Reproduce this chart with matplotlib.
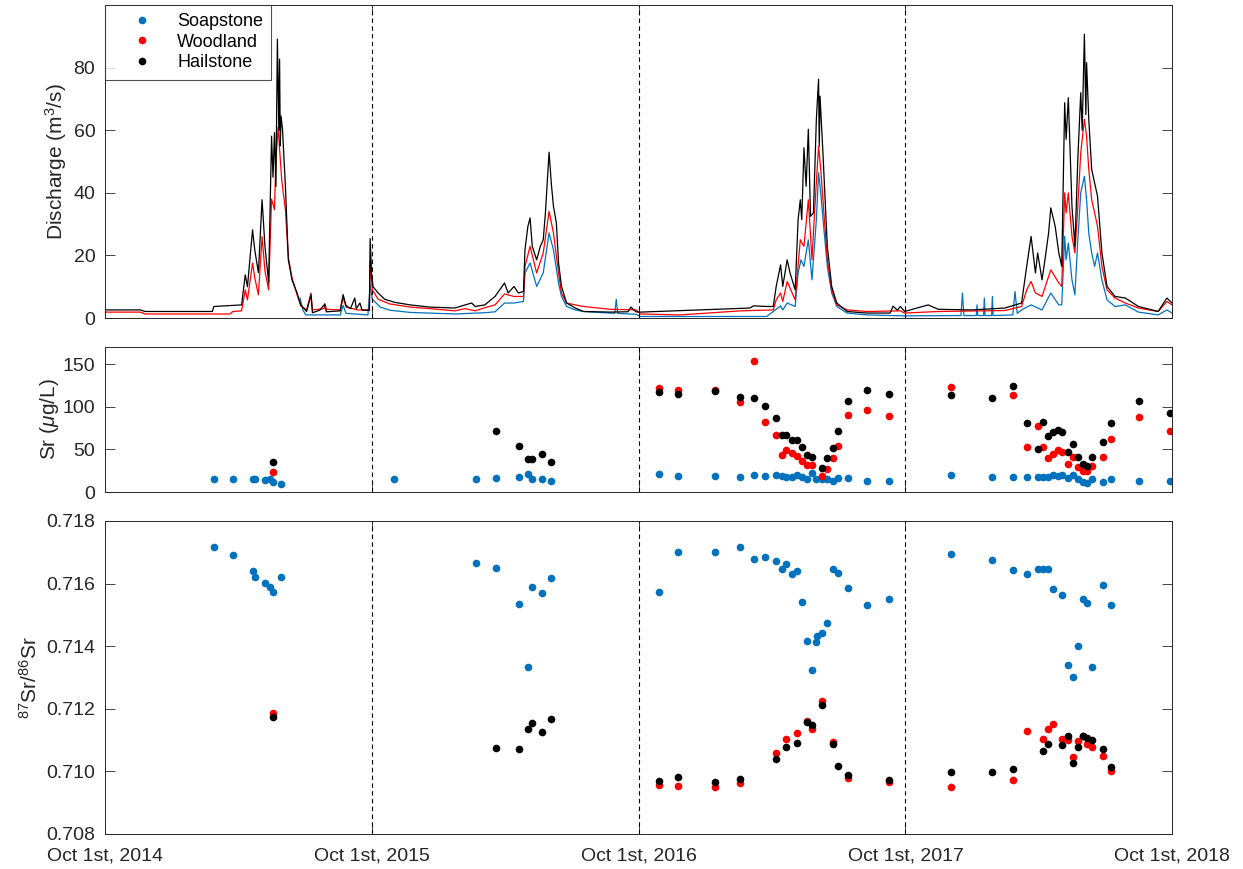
import numpy as np
import pandas as pd
import matplotlib
matplotlib.use('Agg')
import matplotlib.pyplot as plt
from matplotlib.lines import Line2D

plt.rcParams['font.family'] = ['Liberation Sans', 'DejaVu Sans']
plt.rcParams['mathtext.fontset'] = 'custom'
plt.rcParams['mathtext.rm'] = 'Liberation Sans'
plt.rcParams['mathtext.it'] = 'Liberation Sans:italic'

t0 = pd.Timestamp('2014-10-01')

# ---- discharge (days since Oct 1st 2014, m3/s)
hail_q_days = [0, 48, 55, 147, 149, 187, 192, 195, 202, 205, 210, 215, 219, 224, 228, 230, 232, 234,
               236, 238, 239, 240, 241, 243, 247, 251, 256, 263, 268, 276, 282, 284, 294, 301, 303,
               322, 326, 330, 336, 342, 344, 349, 352, 362, 363, 365, 367, 374, 383, 397, 418, 445,
               479, 493, 502, 507, 520, 534, 547, 552, 560, 566, 573, 575, 579, 582, 585, 591, 596,
               600, 603, 608, 611, 614, 618, 621, 625, 632, 644, 655, 692, 716, 720, 727, 733, 815,
               883, 888, 906, 915, 919, 925, 928, 934, 938, 945, 949, 952, 954, 957, 960, 963, 966,
               970, 974, 977, 978, 979, 983, 986, 989, 995, 1002, 1016, 1043, 1075, 1079, 1085, 1089,
               1095, 1127, 1141, 1187, 1232, 1255, 1262, 1268, 1274, 1277, 1283, 1287, 1292, 1295,
               1301, 1306, 1310, 1314, 1316, 1319, 1324, 1328, 1332, 1336, 1338, 1341, 1343, 1344,
               1347, 1351, 1355, 1359, 1365, 1372, 1383, 1397, 1415, 1442, 1454, 1461]
hail_q = [2.6, 2.6, 2.1, 2.1, 3.7, 4.2, 13.8, 10.0, 28.2, 21.8, 14.5, 37.8, 22.9, 11.3, 58.1, 45.0,
          59.3, 42.0, 89.1, 60.0, 82.7, 55.0, 64.5, 60.3, 42.1, 18.6, 12.2, 8.0, 4.2, 2.1, 7.4, 1.7,
          2.5, 4.5, 2.0, 2.3, 7.5, 4.0, 3.0, 6.4, 3.0, 4.8, 2.5, 2.5, 25.4, 14.0, 10.0, 8.0, 6.0,
          5.0, 4.2, 3.5, 3.2, 4.2, 4.8, 3.7, 4.2, 6.9, 11.2, 8.0, 10.1, 8.0, 8.5, 21.8, 29.3, 32.0,
          22.9, 18.6, 22.9, 25.0, 33.6, 53.0, 43.2, 35.7, 30.4, 17.6, 10.1, 4.8, 3.2, 2.1, 1.9, 2.0,
          3.5, 2.0, 1.9, 2.6, 3.2, 3.9, 3.7, 3.7, 10.1, 17.0, 10.1, 18.6, 14.4, 9.0, 31.4, 37.8,
          31.4, 54.4, 42.1, 60.3, 32.5, 33.6, 63.5, 76.3, 55.0, 70.9, 52.8, 37.8, 22.9, 10.1, 4.8,
          2.1, 1.6, 1.6, 3.8, 2.5, 3.7, 2.1, 4.2, 2.8, 2.6, 3.2, 4.8, 16.5, 26.1, 14.4, 20.8, 12.2,
          18.6, 27.2, 35.2, 29.3, 20.8, 16.5, 68.8, 57.1, 70.4, 35.7, 22.9, 50.7, 72.0, 60.0, 90.7,
          65.0, 81.6, 63.5, 47.5, 43.2, 38.9, 20.8, 10.1, 6.9, 6.4, 3.7, 2.1, 6.4, 4.8]

wood_q_days = [0, 48, 55, 171, 175, 187, 192, 195, 202, 205, 210, 215, 219, 224, 228, 232, 234, 237,
               240, 242, 247, 251, 256, 263, 268, 276, 282, 284, 300, 301, 303, 322, 326, 330, 346,
               362, 363, 366, 374, 390, 418, 445, 479, 493, 507, 520, 534, 547, 560, 573, 575, 582,
               591, 600, 608, 614, 621, 625, 632, 644, 655, 692, 727, 733, 787, 870, 915, 919, 925,
               928, 934, 945, 952, 957, 963, 968, 972, 977, 980, 984, 989, 995, 1002, 1016, 1043,
               1089, 1095, 1141, 1232, 1255, 1262, 1268, 1274, 1283, 1292, 1295, 1306, 1310, 1314,
               1316, 1319, 1324, 1328, 1332, 1336, 1341, 1344, 1347, 1351, 1355, 1359, 1365, 1372,
               1383, 1397, 1415, 1442, 1454, 1461]
wood_q = [1.9, 1.9, 1.3, 1.3, 2.1, 2.3, 9.0, 5.8, 17.6, 12.9, 7.4, 26.0, 15.0, 9.0, 38.0, 34.6, 50.6,
          61.0, 50.6, 44.0, 34.6, 19.3, 12.9, 7.4, 3.9, 2.6, 8.0, 2.6, 3.0, 4.5, 2.8, 2.6, 6.5, 3.5,
          2.6, 2.6, 18.0, 9.0, 6.0, 4.5, 3.5, 3.0, 2.3, 3.0, 2.3, 3.3, 4.2, 7.7, 6.9, 6.9, 16.5, 22.9,
          14.4, 20.8, 34.1, 27.2, 14.4, 8.0, 4.8, 4.2, 3.7, 2.8, 2.6, 1.3, 1.0, 2.3, 2.6, 5.8, 8.0,
          5.3, 11.7, 5.8, 25.0, 22.9, 37.8, 18.6, 35.7, 54.9, 47.5, 34.6, 18.6, 9.0, 4.2, 2.6, 2.1,
          2.3, 1.6, 2.1, 2.4, 3.7, 9.0, 11.7, 8.0, 6.9, 13.3, 15.4, 11.2, 10.1, 40.0, 33.6, 40.0,
          26.1, 20.8, 35.7, 52.8, 63.5, 58.1, 47.5, 37.8, 33.6, 29.3, 16.5, 9.0, 6.4, 4.8, 3.2, 2.1,
          5.3, 4.2]

soap_q_days = [267, 271, 275, 322, 326, 330, 360, 363, 366, 377, 390, 418, 479, 520, 534, 547, 560,
               573, 575, 582, 591, 600, 608, 614, 621, 625, 632, 644, 655, 698, 700, 702, 727, 733,
               906, 915, 925, 928, 934, 945, 949, 953, 957, 963, 968, 974, 977, 980, 984, 989, 995,
               1002, 1016, 1043, 1095, 1172, 1174, 1176, 1193, 1194, 1195, 1203, 1204, 1205, 1214,
               1215, 1216, 1243, 1246, 1249, 1255, 1268, 1283, 1295, 1306, 1310, 1314, 1316, 1319,
               1324, 1328, 1332, 1336, 1341, 1344, 1347, 1351, 1355, 1359, 1365, 1372, 1383, 1397,
               1415, 1442, 1454, 1461]
soap_q = [6.4, 2.5, 1.0, 1.0, 4.0, 1.5, 1.0, 10.6, 6.0, 3.5, 2.5, 1.8, 1.3, 1.7, 2.0, 4.8, 4.8, 5.3,
          14.4, 17.6, 10.1, 14.4, 27.2, 21.8, 11.2, 6.9, 3.7, 2.6, 2.1, 1.5, 6.0, 1.5, 1.2, 0.5, 0.5,
          2.1, 3.9, 2.6, 4.8, 3.7, 14.4, 18.6, 16.5, 25.0, 12.2, 31.4, 46.4, 40.0, 29.3, 16.5, 8.0,
          3.7, 1.6, 1.0, 0.7, 0.8, 8.0, 0.8, 0.8, 4.2, 0.8, 0.8, 6.4, 0.8, 0.8, 6.9, 0.8, 1.0, 8.5,
          1.5, 2.6, 4.2, 2.6, 8.0, 4.2, 4.2, 26.1, 18.6, 24.0, 12.2, 7.4, 25.0, 40.0, 45.3, 37.8,
          27.2, 20.8, 16.5, 20.8, 12.2, 5.8, 3.7, 4.2, 1.9, 1.0, 2.6, 1.6]

# ---- Sr concentration (ug/L)
soap_sr_days = [149, 175, 203, 205, 219, 226, 230, 241, 395, 508, 536, 567, 579, 585, 599, 610,
                758, 785, 835, 870, 889, 903, 919, 927, 933, 940, 947, 954, 961, 968, 974, 982, 989,
                997, 1004, 1018, 1043, 1074, 1158, 1215, 1243, 1263, 1277, 1284, 1291, 1298, 1305,
                1311, 1318, 1325, 1332, 1339, 1345, 1352, 1366, 1378, 1416, 1458]
soap_sr = [15.4, 15.8, 14.7, 14.7, 14.3, 15.8, 12.0, 9.6, 15.4, 14.7, 16.2, 17.4, 21.2, 15.4, 15.8,
           12.7, 20.8, 18.5, 18.9, 18.1, 20.1, 18.9, 20.4, 18.9, 18.1, 18.1, 20.4, 18.1, 15.8, 22.0,
           15.8, 15.0, 15.0, 12.7, 17.0, 17.0, 13.5, 12.7, 20.1, 17.7, 17.7, 17.7, 17.7, 17.7, 17.4,
           20.1, 18.5, 20.1, 16.2, 20.1, 15.4, 11.6, 10.4, 15.4, 11.6, 14.7, 13.1, 13.5]

wood_sr_days = [230, 758, 785, 835, 870, 889, 903, 919, 927, 933, 940, 947, 954, 961, 968, 982, 989,
                997, 1004, 1018, 1043, 1074, 1158, 1243, 1263, 1277, 1284, 1291, 1298, 1305, 1311,
                1318, 1325, 1332, 1339, 1345, 1352, 1366, 1378, 1416, 1458]
wood_sr = [23.1, 122.2, 119.9, 119.9, 105.3, 153.1, 81.7, 66.3, 43.6, 49.7, 45.9, 42.8, 35.9, 32.0,
           32.0, 18.9, 27.4, 39.7, 53.6, 89.8, 96.0, 89.1, 123.0, 113.4, 52.4, 77.9, 52.4, 40.1,
           44.7, 49.0, 47.0, 32.8, 41.6, 29.3, 25.1, 25.1, 30.5, 41.6, 62.1, 88.3, 72.1]

hail_sr_days = [230, 536, 567, 579, 585, 599, 610, 758, 785, 835, 870, 889, 903, 919, 927, 933, 940,
                947, 954, 961, 968, 982, 989, 997, 1004, 1018, 1043, 1074, 1158, 1215, 1243, 1263,
                1277, 1284, 1291, 1298, 1305, 1311, 1318, 1325, 1332, 1339, 1345, 1352, 1366, 1378,
                1416, 1458]
hail_sr = [34.7, 71.3, 54.0, 38.2, 38.2, 44.7, 35.1, 117.2, 115.3, 118.4, 111.8, 110.3, 101.0, 86.8,
           66.3, 66.3, 60.5, 61.3, 52.8, 43.2, 41.6, 28.5, 39.7, 51.3, 71.3, 107.2, 119.5, 114.5,
           113.4, 109.9, 124.5, 81.4, 50.5, 82.1, 65.6, 70.2, 72.9, 70.6, 47.0, 56.3, 40.5, 32.8,
           30.5, 41.6, 58.2, 81.4, 106.8, 92.9]

# ---- 87Sr/86Sr
soap_ir_days = [149, 175, 203, 205, 219, 226, 230, 241, 508, 536, 567, 579, 585, 599, 610, 758, 785,
                835, 870, 889, 903, 919, 927, 933, 940, 947, 954, 961, 968, 974, 975, 982, 989, 997,
                1004, 1018, 1043, 1074, 1158, 1215, 1243, 1263, 1277, 1284, 1291, 1298, 1311, 1318,
                1325, 1332, 1339, 1345, 1352, 1366, 1378]
soap_ir = [0.71717, 0.71692, 0.71639, 0.71621, 0.71603, 0.71590, 0.71573, 0.71622, 0.71665, 0.71649,
           0.71534, 0.71335, 0.71588, 0.71570, 0.71617, 0.71572, 0.71702, 0.71700, 0.71717, 0.71679,
           0.71685, 0.71672, 0.71645, 0.71661, 0.71630, 0.71641, 0.71542, 0.71415, 0.71323, 0.71414,
           0.71432, 0.71443, 0.71475, 0.71646, 0.71634, 0.71585, 0.71531, 0.71550, 0.71695, 0.71674,
           0.71642, 0.71630, 0.71648, 0.71648, 0.71647, 0.71582, 0.71563, 0.71341, 0.71301, 0.71402,
           0.71550, 0.71537, 0.71333, 0.71596, 0.71531]

wood_ir_days = [230, 758, 785, 835, 870, 919, 933, 947, 961, 968, 982, 997, 1018, 1074, 1158, 1243,
                1263, 1284, 1291, 1298, 1311, 1318, 1325, 1332, 1339, 1345, 1352, 1366, 1378]
wood_ir = [0.71186, 0.70956, 0.70952, 0.70950, 0.70963, 0.71059, 0.71104, 0.71122, 0.71162, 0.71136,
           0.71225, 0.71095, 0.70978, 0.70967, 0.70950, 0.70974, 0.71128, 0.71102, 0.71134, 0.71150,
           0.71102, 0.71100, 0.71047, 0.71097, 0.71113, 0.71089, 0.71077, 0.71050, 0.71001]

hail_ir_days = [230, 536, 567, 579, 585, 599, 610, 758, 785, 835, 870, 919, 933, 947, 961, 968, 982,
                997, 1004, 1018, 1074, 1158, 1215, 1243, 1284, 1291, 1311, 1318, 1325, 1332, 1339,
                1345, 1352, 1366, 1378]
hail_ir = [0.71174, 0.71074, 0.71073, 0.71134, 0.71155, 0.71127, 0.71167, 0.70968, 0.70983, 0.70966,
           0.70975, 0.71039, 0.71079, 0.71090, 0.71158, 0.71149, 0.71211, 0.71088, 0.71016, 0.70989,
           0.70971, 0.70997, 0.70997, 0.71006, 0.71065, 0.71086, 0.71085, 0.71114, 0.71026, 0.71077,
           0.71112, 0.71106, 0.71099, 0.71073, 0.71015]

sites = ['Soapstone', 'Woodland', 'Hailstone']
colors = ['#0072BD', '#FF0000', '#000000']
year_ticks = ['2014-10-01', '2015-10-01', '2016-10-01', '2017-10-01', '2018-10-01']
year_labels = ['Oct 1st, 2014', 'Oct 1st, 2015', 'Oct 1st, 2016', 'Oct 1st, 2017', 'Oct 1st, 2018']


def to_dates(days):
    return t0 + pd.to_timedelta(np.array(days), unit='D')


ticks = pd.to_datetime(year_ticks)
axcol = '#262626'

fig = plt.figure(figsize=(12.43, 8.69), dpi=100)
ax1 = fig.add_axes([0.0845, 0.634, 0.8584, 0.3602])
ax2 = fig.add_axes([0.0845, 0.4338, 0.8584, 0.1669])
ax3 = fig.add_axes([0.0845, 0.0403, 0.8584, 0.3602])

q_sets = [(soap_q_days, soap_q), (wood_q_days, wood_q), (hail_q_days, hail_q)]
for (d, q), c in zip(q_sets, colors):
    ax1.plot(to_dates(d), q, color=c, lw=0.9)

sr_sets = [(soap_sr_days, soap_sr), (wood_sr_days, wood_sr), (hail_sr_days, hail_sr)]
for (d, v), c in zip(sr_sets, colors):
    ax2.plot(to_dates(d), v, 'o', color=c, ms=5.5, mec='none')

ir_sets = [(soap_ir_days, soap_ir), (wood_ir_days, wood_ir), (hail_ir_days, hail_ir)]
for (d, v), c in zip(ir_sets, colors):
    ax3.plot(to_dates(d), v, 'o', color=c, ms=5.5, mec='none')

ax1.set_ylim(0, 100)
ax1.set_yticks([0, 20, 40, 60, 80])
ax2.set_ylim(0, 170)
ax2.set_yticks([0, 50, 100, 150])
ax3.set_ylim(0.708, 0.718)
ax3.set_yticks(np.arange(0.708, 0.7181, 0.002))
ax3.set_yticklabels(['%.3f' % v for v in np.arange(0.708, 0.7181, 0.002)])

ax1.set_ylabel('Discharge (m$^3$/s)', fontsize=15, color=axcol)
ax2.set_ylabel('Sr ($\\mu$g/L)', fontsize=15, color=axcol)
ax3.set_ylabel('$^{87}$Sr/$^{86}$Sr', fontsize=15, color=axcol)

for ax in [ax1, ax2, ax3]:
    ax.set_xlim(ticks[0], ticks[-1])
    ax.set_xticks(ticks)
    ax.set_xticklabels([])
    for t in ticks[1:-1]:
        ax.axvline(t, color='k', ls=(0, (4, 3)), lw=0.8)
    ax.tick_params(direction='in', length=7, width=0.6, labelsize=14, colors=axcol,
                   top=True, right=True)
    ax.tick_params(axis='y', pad=7)
    for s in ax.spines.values():
        s.set_color(axcol)
        s.set_linewidth(0.7)
ax3.set_xticklabels(year_labels)
ax3.tick_params(axis='x', pad=10)
ax1.yaxis.set_label_coords(-0.034, 0.5)
ax2.yaxis.set_label_coords(-0.041, 0.5)
ax3.yaxis.set_label_coords(-0.06, 0.5)

handles = [Line2D([], [], marker='o', ls='none', color=c, ms=5.5, mec='none') for c in colors]
leg = ax1.legend(handles, sites, loc='upper left', fontsize=13, frameon=True, fancybox=False,
                 borderaxespad=0, handletextpad=0.35, labelspacing=0.2, borderpad=0.45,
                 handlelength=3.2)
leg.get_frame().set_edgecolor(axcol)
leg.get_frame().set_linewidth(0.8)

plt.savefig('out.png', dpi=100)
